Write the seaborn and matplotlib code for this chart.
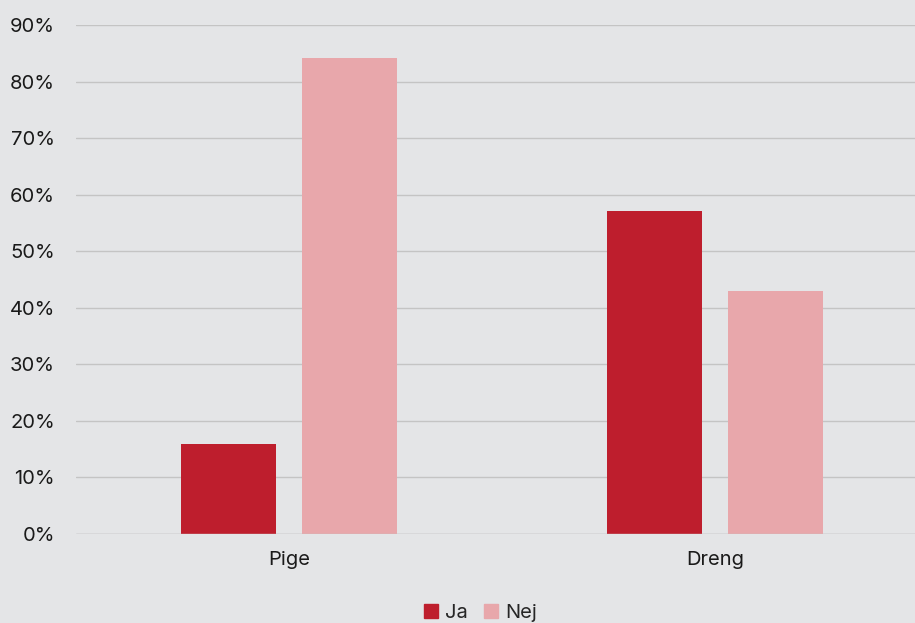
import pandas as pd
import seaborn as sns
import matplotlib.pyplot as plt
from matplotlib.ticker import PercentFormatter

kategorier = ['Pige', 'Dreng']
svar = ['Ja', 'Nej']
ja = [0.159, 0.571]
nej = [0.841, 0.429]
farver = ['#be1e2d', '#e8a7ab']

df = pd.DataFrame({
    'kategori': kategorier * 2,
    'svar': ['Ja'] * len(kategorier) + ['Nej'] * len(kategorier),
    'andel': ja + nej,
})

sns.set_style('white')
plt.rcParams['font.family'] = ['Inter', 'DejaVu Sans']

bg = '#e4e5e7'
fig = plt.figure(figsize=(9.15, 6.23), dpi=100, facecolor=bg)
ax = fig.add_axes([76 / 915, 1 - 534 / 623, 1 - 76 / 915, (534 - 25) / 623])
ax.set_facecolor(bg)

sns.barplot(data=df, x='kategori', y='andel', hue='svar', order=kategorier,
            hue_order=svar, palette=farver, width=0.568, gap=0.215,
            saturation=1, linewidth=0, ax=ax, legend=False)

ax.set_ylim(0, 0.9)
ax.set_xlim(-0.5, 1.4695)
ax.set_yticks([i / 10 for i in range(10)])
ax.yaxis.set_major_formatter(PercentFormatter(1.0, decimals=0))
ax.grid(axis='y', color='#c4c4c4', linewidth=1)
ax.set_axisbelow(True)
for s in ax.spines.values():
    s.set_visible(False)
ax.axhline(0, color='#c4c4c4', linewidth=1, zorder=3)
ax.tick_params(axis='y', length=0, pad=15, labelsize=14.5, labelcolor='#1a1a1a')
ax.tick_params(axis='x', length=0, pad=12, labelsize=14.5, labelcolor='#1a1a1a')
ax.set_xlabel('')
ax.set_ylabel('')

handles = [plt.Rectangle((0, 0), 1, 1, color=c) for c in farver]
fig.legend(handles, svar, loc='lower center', bbox_to_anchor=(0.525, -0.027),
           ncol=2, frameon=False, fontsize=14.5, handlelength=0.7,
           handleheight=0.7, handletextpad=0.35, columnspacing=0.8)

fig.savefig('out.png', dpi=100, facecolor=bg)
